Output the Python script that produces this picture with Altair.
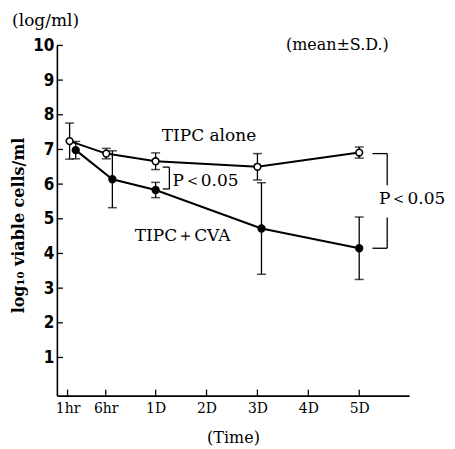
import altair as alt
import pandas as pd

# ---- data ----
times = ["1hr", "6hr", "1D", "3D", "5D"]
alone_x = [-0.69, 0.03, 1.0, 3.0, 5.0]
alone_mean = [7.24, 6.88, 6.66, 6.50, 6.91]
alone_sd = [0.52, 0.15, 0.24, 0.38, 0.16]
cva_x = [-0.57, 0.15, 1.0, 3.08, 5.0]
cva_mean = [6.98, 6.14, 5.83, 4.72, 4.15]
cva_sd = [0.25, 0.82, 0.22, 1.32, 0.90]

tick_vals = [-0.73, 0.02, 1, 2, 3, 4, 5]
tick_labels = ["1hr", "6hr", "1D", "2D", "3D", "4D", "5D"]
y_ticks = [1, 2, 3, 4, 5, 6, 7, 8, 9, 10]

# annotation texts and their anchor points (data units)
ann_text = ["TIPC alone", "TIPC\uff0bCVA", "P\uff1c0.05", "P\uff1c0.05", "(mean\u00b1S.D.)", "(log/ml)"]
ann_x = [1.12, 0.59, 1.33, 5.39, 3.56, -1.82]
ann_y = [7.39, 4.49, 6.09, 5.58, 10.02, 10.71]
ann_size = [17, 17, 17, 17, 16, 17]

# significance brackets (segments)
br_x = [1.14, 1.27, 1.14, 5.26, 5.55, 5.55, 5.26]
br_x2 = [1.27, 1.27, 1.27, 5.55, 5.55, 5.55, 5.55]
br_y = [6.49, 6.49, 5.86, 6.88, 6.88, 5.04, 4.15]
br_y2 = [6.49, 5.86, 5.86, 6.88, 5.97, 4.15, 4.15]

rows = []
for s, xs_, m, sd in [("alone", alone_x, alone_mean, alone_sd), ("cva", cva_x, cva_mean, cva_sd)]:
    for t, xv, mv, sv in zip(times, xs_, m, sd):
        rows.append({"series": s, "time": t, "x": xv, "y": mv, "lo": mv - sv, "hi": mv + sv})
df = pd.DataFrame(rows)
ann = pd.DataFrame({"text": ann_text, "x": ann_x, "y": ann_y, "size": ann_size})
br = pd.DataFrame({"x": br_x, "x2": br_x2, "y": br_y, "y2": br_y2})
xt = pd.DataFrame({"x": tick_vals})
yt = pd.DataFrame({"y": y_ticks})

xs = alt.Scale(domain=[-0.94, 5.98], nice=False, zero=False)
ys = alt.Scale(domain=[-0.1, 10], nice=False, zero=False)

expr = "'" + tick_labels[-1] + "'"
for v, l in reversed(list(zip(tick_vals[:-1], tick_labels[:-1]))):
    expr = f"abs(datum.value - ({v})) < 0.01 ? '{l}' : " + expr

xaxis = alt.Axis(values=tick_vals, labelExpr=expr, ticks=False, grid=False,
                 domainColor="black", domainWidth=1.6,
                 labelFont="DejaVu Serif", labelFontSize=14, labelColor="black", labelPadding=6,
                 title="(Time)", titleFont="DejaVu Serif", titleFontSize=16, titleFontWeight="normal",
                 titleColor="black", titlePadding=14)
yaxis = alt.Axis(values=y_ticks, ticks=False, grid=False,
                 domainColor="black", domainWidth=1.6,
                 labelFont="Liberation Sans Narrow, DejaVu Sans Condensed, Liberation Sans",
                 labelFontWeight="bold", labelFontSize=17, labelColor="black", labelPadding=3,
                 title="log\u2081\u2080 viable cells/ml", titleFont="DejaVu Serif", titleFontWeight="bold",
                 titleFontSize=16, titleColor="black", titleAngle=270, titleBaseline="middle",
                 titleAlign="center", titleX=-38, titleY=180)

X = alt.X("x:Q", scale=xs, axis=xaxis)
Y = alt.Y("y:Q", scale=ys, axis=yaxis)

base = alt.Chart(df)
err = base.mark_rule(color="black", strokeWidth=1.3).encode(x=X, y=alt.Y("lo:Q", scale=ys, axis=yaxis), y2="hi:Q")
cap_lo = base.mark_tick(color="black", orient="horizontal", size=9, thickness=1.5).encode(x=X, y=alt.Y("lo:Q", scale=ys, axis=yaxis))
cap_hi = base.mark_tick(color="black", orient="horizontal", size=9, thickness=1.5).encode(x=X, y=alt.Y("hi:Q", scale=ys, axis=yaxis))
lines = base.mark_line(color="black", strokeWidth=2).encode(x=X, y=Y, detail="series:N", order="x:Q")
pts = base.mark_point(shape="circle", filled=True, size=45, stroke="black", strokeWidth=1.6, opacity=1).encode(
    x=X, y=Y,
    fill=alt.Fill("series:N", scale=alt.Scale(domain=["alone", "cva"], range=["white", "black"]), legend=None))

xticks = alt.Chart(xt).mark_rule(color="black", strokeWidth=1.3).encode(
    x=X, y=alt.value(351), y2=alt.value(345))
yticks = alt.Chart(yt).mark_rule(color="black", strokeWidth=1.3).encode(
    y=Y, x=alt.value(0), x2=alt.value(6))

brackets = alt.Chart(br).mark_rule(color="black", strokeWidth=1.3).encode(
    x=X, x2="x2:Q", y=Y, y2="y2:Q")

texts = alt.Chart(ann).mark_text(font="DejaVu Serif", align="left", baseline="middle", color="black").encode(
    x=X, y=Y, text="text:N", size=alt.Size("size:Q", scale=None, legend=None))

chart = alt.layer(err, cap_lo, cap_hi, lines, pts, xticks, yticks, brackets, texts).properties(
    width=353, height=351,
    autosize=alt.AutoSizeParams(type="none"),
    padding={"left": 49, "top": 37, "right": 38, "bottom": 52},
    background="white",
).configure_view(stroke=None)

chart.save("out.html", embed_options={"renderer": "svg", "actions": False})
